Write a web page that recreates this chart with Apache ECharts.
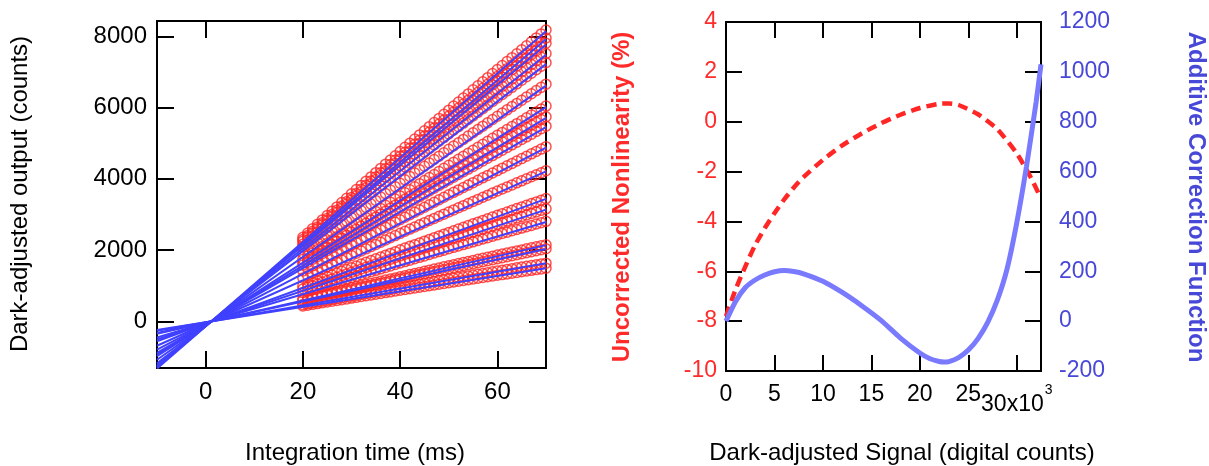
<!DOCTYPE html>
<html><head><meta charset="utf-8">
<script src="https://cdn.jsdelivr.net/npm/echarts@6/dist/echarts.min.js"></script>
<style>html,body{margin:0;padding:0;background:#fff}#c{width:1209px;height:466px}</style>
</head><body><div id="c"></div>
<script>
// ---- Left panel: integration time (ms) vs dark-adjusted output (counts) ----
const times = [20,21,22,23,24,25,26,27,28,29,30,31,32,33,34,35,36,37,38,39,40,41,42,43,44,45,46,47,48,49,50,51,52,53,54,55,56,57,58,59,60,61,62,63,64,65,66,67,68,69,70];
const run01 = [2358,2480,2602,2724,2846,2968,3090,3212,3334,3456,3578,3697,3816,3935,4054,4173,4292,4411,4530,4649,4768,4884,5000,5116,5232,5348,5464,5580,5696,5812,5928,6042,6156,6270,6384,6498,6612,6726,6840,6954,7068,7179,7290,7401,7512,7623,7734,7845,7956,8067,8178];
const run02 = [2294,2412,2530,2648,2766,2884,3002,3120,3238,3356,3474,3590,3706,3822,3938,4054,4170,4286,4402,4518,4634,4747,4860,4973,5086,5199,5312,5425,5538,5651,5764,5875,5986,6097,6208,6319,6430,6541,6652,6763,6874,6982,7090,7198,7306,7414,7522,7630,7738,7846,7954];
const run03 = [2248,2364,2480,2596,2712,2828,2944,3060,3176,3292,3408,3522,3636,3750,3864,3978,4092,4206,4320,4434,4548,4659,4770,4881,4992,5103,5214,5325,5436,5547,5658,5767,5876,5985,6094,6203,6312,6421,6530,6639,6748,6854,6960,7066,7172,7278,7384,7490,7596,7702,7808];
const run04 = [2167,2279,2391,2503,2615,2727,2839,2951,3063,3175,3287,3396,3505,3614,3723,3832,3941,4050,4159,4268,4377,4484,4591,4698,4805,4912,5019,5126,5233,5340,5447,5552,5657,5762,5867,5972,6077,6182,6287,6392,6497,6599,6701,6803,6905,7007,7109,7211,7313,7415,7517];
const run05 = [2091,2199,2307,2415,2523,2631,2739,2847,2955,3063,3171,3277,3383,3489,3595,3701,3807,3913,4019,4125,4231,4334,4437,4540,4643,4746,4849,4952,5055,5158,5261,5362,5463,5564,5665,5766,5867,5968,6069,6170,6271,6370,6469,6568,6667,6766,6865,6964,7063,7162,7261];
const run06 = [1917,2016,2115,2214,2313,2412,2511,2610,2709,2808,2907,3004,3101,3198,3295,3392,3489,3586,3683,3780,3877,3972,4067,4162,4257,4352,4447,4542,4637,4732,4827,4920,5013,5106,5199,5292,5385,5478,5571,5664,5757,5847,5937,6027,6117,6207,6297,6387,6477,6567,6657];
const run07 = [1741,1831,1921,2011,2101,2191,2281,2371,2461,2551,2641,2729,2817,2905,2993,3081,3169,3257,3345,3433,3521,3607,3693,3779,3865,3951,4037,4123,4209,4295,4381,4465,4549,4633,4717,4801,4885,4969,5053,5137,5221,5303,5385,5467,5549,5631,5713,5795,5877,5959,6041];
const run08 = [1654,1739,1824,1909,1994,2079,2164,2249,2334,2419,2504,2588,2672,2756,2840,2924,3008,3092,3176,3260,3344,3426,3508,3590,3672,3754,3836,3918,4000,4082,4164,4244,4324,4404,4484,4564,4644,4724,4804,4884,4964,5042,5120,5198,5276,5354,5432,5510,5588,5666,5744];
const run09 = [1579,1660,1741,1822,1903,1984,2065,2146,2227,2308,2389,2469,2549,2629,2709,2789,2869,2949,3029,3109,3189,3267,3345,3423,3501,3579,3657,3735,3813,3891,3969,4045,4121,4197,4273,4349,4425,4501,4577,4653,4729,4804,4879,4954,5029,5104,5179,5254,5329,5404,5479];
const run10 = [1412,1485,1558,1631,1704,1777,1850,1923,1996,2069,2142,2213,2284,2355,2426,2497,2568,2639,2710,2781,2852,2922,2992,3062,3132,3202,3272,3342,3412,3482,3552,3620,3688,3756,3824,3892,3960,4028,4096,4164,4232,4299,4366,4433,4500,4567,4634,4701,4768,4835,4902];
const run11 = [1219,1282,1345,1408,1471,1534,1597,1660,1723,1786,1849,1911,1973,2035,2097,2159,2221,2283,2345,2407,2469,2529,2589,2649,2709,2769,2829,2889,2949,3009,3069,3128,3187,3246,3305,3364,3423,3482,3541,3600,3659,3716,3773,3830,3887,3944,4001,4058,4115,4172,4229];
const run12 = [996,1047,1098,1149,1200,1251,1302,1353,1404,1455,1506,1556,1606,1656,1706,1756,1806,1856,1906,1956,2006,2055,2104,2153,2202,2251,2300,2349,2398,2447,2496,2544,2592,2640,2688,2736,2784,2832,2880,2928,2976,3023,3070,3117,3164,3211,3258,3305,3352,3399,3446];
const run13 = [908,955,1002,1049,1096,1143,1190,1237,1284,1331,1378,1424,1470,1516,1562,1608,1654,1700,1746,1792,1838,1883,1928,1973,2018,2063,2108,2153,2198,2243,2288,2332,2376,2420,2464,2508,2552,2596,2640,2684,2728,2771,2814,2857,2900,2943,2986,3029,3072,3115,3158];
const run14 = [807,849,891,933,975,1017,1059,1101,1143,1185,1227,1268,1309,1350,1391,1432,1473,1514,1555,1596,1637,1677,1717,1757,1797,1837,1877,1917,1957,1997,2037,2076,2115,2154,2193,2232,2271,2310,2349,2388,2427,2465,2503,2541,2579,2617,2655,2693,2731,2769,2807];
const run15 = [620,652,684,716,748,780,812,844,876,908,940,971,1002,1033,1064,1095,1126,1157,1188,1219,1250,1281,1312,1343,1374,1405,1436,1467,1498,1529,1560,1590,1620,1650,1680,1710,1740,1770,1800,1830,1860,1889,1918,1947,1976,2005,2034,2063,2092,2121,2150];
const run16 = [588,618,648,678,708,738,768,798,828,858,888,918,948,978,1008,1038,1068,1098,1128,1158,1188,1217,1246,1275,1304,1333,1362,1391,1420,1449,1478,1506,1534,1562,1590,1618,1646,1674,1702,1730,1758,1786,1814,1842,1870,1898,1926,1954,1982,2010,2038];
const run17 = [473,497,521,545,569,593,617,641,665,689,713,737,761,785,809,833,857,881,905,929,953,976,999,1022,1045,1068,1091,1114,1137,1160,1183,1206,1229,1252,1275,1298,1321,1344,1367,1390,1413,1435,1457,1479,1501,1523,1545,1567,1589,1611,1633];
const run18 = [432,454,476,498,520,542,564,586,608,630,652,674,696,718,740,762,784,806,828,850,872,893,914,935,956,977,998,1019,1040,1061,1082,1103,1124,1145,1166,1187,1208,1229,1250,1271,1292,1312,1332,1352,1372,1392,1412,1432,1452,1472,1492];

// fitted lines: value at t = -10 ms and at t = 70 ms
const fitTimes = [-10, 70];
const fitAtStart = [-1325,-1289,-1263,-1218,-1175,-1077,-978,-930,-888,-794,-685,-560,-510,-454,-348,-330,-266,-243];
const fitAtEnd = [8139,7920,7761,7483,7219,6617,6010,5712,5452,4876,4209,3438,3135,2786,2139,2030,1632,1492];

const leftXTicks = [0, 20, 40, 60];
const leftYTicks = [0, 2000, 4000, 6000, 8000];

// ---- Right panel ----
const signalNL = [0,1000,2000,3000,4000,5000,6000,7000,8000,10000,12000,14000,16000,18000,20000,22000,23000,24000,26000,28000,30000,31400,32400];
const nonlinearityPct = [-7.8,-6.72,-5.8,-4.95,-4.27,-3.67,-3.12,-2.64,-2.22,-1.53,-0.95,-0.47,-0.06,0.28,0.55,0.72,0.73,0.67,0.3,-0.3,-1.27,-2.2,-3.0];
const signalAC = [0,1000,2000,3000,4000,5000,6000,7000,8000,10000,12000,14000,16000,18000,20000,21000,22000,22500,23000,24000,25000,26000,27000,28000,29000,30000,31000,32000,32500];
const additiveCorrection = [0,80,135,165,185,198,203,199,190,160,115,62,3,-68,-128,-150,-162,-164,-162,-146,-116,-70,-5,85,210,395,620,880,1030];
const rightXTicks = [0,5000,10000,15000,20000,25000,30000];

const FONT = "'Liberation Sans', Arial, Helvetica, sans-serif";
const RED = '#ff2626';
const BLUE_LINE = '#4040ff';
const RED_TXT = '#ff2a2a';
const BLUE_TXT = '#4848d8';

const runs = [run01,run02,run03,run04,run05,run06,run07,run08,run09,run10,run11,run12,run13,run14,run15,run16,run17,run18];

const tick = (vals, len) => ({show: true, inside: true, length: len || 17, lineStyle: {color: '#000', width: 2}, customValues: vals});
const noLine = {show: false, onZero: false};
const series = [];
runs.forEach(r => {
  series.push({
    type: 'scatter', xAxisIndex: 0, yAxisIndex: 0, silent: true, z: 2,
    symbol: 'circle', symbolSize: 10,
    itemStyle: {color: 'rgba(0,0,0,0)', borderColor: RED, borderWidth: 1.5},
    data: times.map((t, k) => [t, r[k]])
  });
});
fitAtStart.forEach((v, i) => {
  series.push({
    type: 'line', xAxisIndex: 0, yAxisIndex: 0, silent: true, z: 3,
    showSymbol: false, symbol: 'none',
    lineStyle: {color: BLUE_LINE, width: 2},
    data: [[fitTimes[0], v], [fitTimes[1], fitAtEnd[i]]]
  });
});
series.push({
  type: 'line', xAxisIndex: 2, yAxisIndex: 2, silent: true, z: 3, smooth: 0.2,
  showSymbol: false, symbol: 'none',
  lineStyle: {color: RED, width: 4.5, type: [10, 6]},
  data: signalNL.map((x, i) => [x, nonlinearityPct[i]])
});
series.push({
  type: 'line', xAxisIndex: 2, yAxisIndex: 3, silent: true, z: 4, smooth: 0.2,
  showSymbol: false, symbol: 'none',
  lineStyle: {color: '#7a7aff', width: 5},
  data: signalAC.map((x, i) => [x, additiveCorrection[i]])
});

const plain = v => String(v);
const lbl = {fontFamily: FONT, fontSize: 24, color: '#000', formatter: plain};
const chart = echarts.init(document.getElementById('c'), null, {renderer: 'canvas'});
chart.setOption({
  animation: false,
  backgroundColor: '#fff',
  grid: [
    {left: 157, top: 21, width: 389, height: 347, show: true, borderColor: '#000', borderWidth: 2, backgroundColor: 'transparent', containLabel: false, outerBoundsMode: 'none'},
    {left: 726, top: 22, width: 315, height: 349, show: true, borderColor: '#000', borderWidth: 2, backgroundColor: 'transparent', containLabel: false, outerBoundsMode: 'none'}
  ],
  xAxis: [
    {type: 'value', gridIndex: 0, position: 'bottom', min: -10, max: 70, axisLine: noLine, splitLine: {show: false},
     axisTick: tick(leftXTicks), axisLabel: Object.assign({}, lbl, {customValues: leftXTicks, margin: 12})},
    {type: 'value', gridIndex: 0, position: 'top', min: -10, max: 70, axisLine: noLine, splitLine: {show: false},
     axisTick: tick(leftXTicks), axisLabel: {show: false}},
    {type: 'value', gridIndex: 1, position: 'bottom', min: 0, max: 32500, axisLine: noLine, splitLine: {show: false},
     axisTick: tick(rightXTicks, 16),
     axisLabel: {customValues: rightXTicks, margin: 12, fontFamily: FONT, fontSize: 23, color: '#000',
       formatter: v => v === 30000 ? '{b|30x10}{s|3}' : String(v / 1000),
       rich: {b: {fontFamily: FONT, fontSize: 23, color: '#000', padding: [10, 0, 0, 0]},
              s: {fontFamily: FONT, fontSize: 14, color: '#000', verticalAlign: 'top', padding: [0, 0, 16, 1]}}}},
    {type: 'value', gridIndex: 1, position: 'top', min: 0, max: 32500, axisLine: noLine, splitLine: {show: false},
     axisTick: tick(rightXTicks, 16), axisLabel: {show: false}}
  ],
  yAxis: [
    {type: 'value', gridIndex: 0, position: 'left', min: -1310, max: 8430, axisLine: noLine, splitLine: {show: false},
     axisTick: tick(leftYTicks), axisLabel: Object.assign({}, lbl, {customValues: leftYTicks, margin: 10})},
    {type: 'value', gridIndex: 0, position: 'right', min: -1310, max: 8430, axisLine: noLine, splitLine: {show: false},
     axisTick: tick(leftYTicks), axisLabel: {show: false}},
    {type: 'value', gridIndex: 1, position: 'left', min: -10, max: 4, interval: 2, axisLine: noLine, splitLine: {show: false},
     axisTick: {show: true, inside: true, length: 16, lineStyle: {color: '#000', width: 2}},
     axisLabel: {margin: 9, fontFamily: FONT, fontSize: 23, color: RED_TXT, formatter: plain}},
    {type: 'value', gridIndex: 1, position: 'right', min: -200, max: 1200, interval: 200, axisLine: noLine, splitLine: {show: false},
     axisTick: {show: true, inside: true, length: 16, lineStyle: {color: '#000', width: 2}},
     axisLabel: {margin: 18, fontFamily: FONT, fontSize: 23, color: BLUE_TXT, formatter: plain}}
  ],
  graphic: [
    {type: 'text', x: 20, y: 194, rotation: Math.PI / 2, style: {text: 'Dark-adjusted output (counts)', fill: '#000', font: '24px ' + FONT, textAlign: 'center', textVerticalAlign: 'middle'}},
    {type: 'text', x: 355, y: 453, style: {text: 'Integration time (ms)', fill: '#000', font: '24px ' + FONT, textAlign: 'center', textVerticalAlign: 'middle'}},
    {type: 'text', x: 902, y: 453, style: {text: 'Dark-adjusted Signal (digital counts)', fill: '#000', font: '24px ' + FONT, textAlign: 'center', textVerticalAlign: 'middle'}},
    {type: 'text', x: 622, y: 197, rotation: Math.PI / 2, style: {text: 'Uncorrected Nonlinearity (%)', fill: RED_TXT, font: 'bold 24px ' + FONT, textAlign: 'center', textVerticalAlign: 'middle'}},
    {type: 'text', x: 1196, y: 197, rotation: -Math.PI / 2, style: {text: 'Additive Correction Function', fill: BLUE_TXT, font: 'bold 24px ' + FONT, textAlign: 'center', textVerticalAlign: 'middle'}}
  ],
  series: series
});
</script>
</body></html>
